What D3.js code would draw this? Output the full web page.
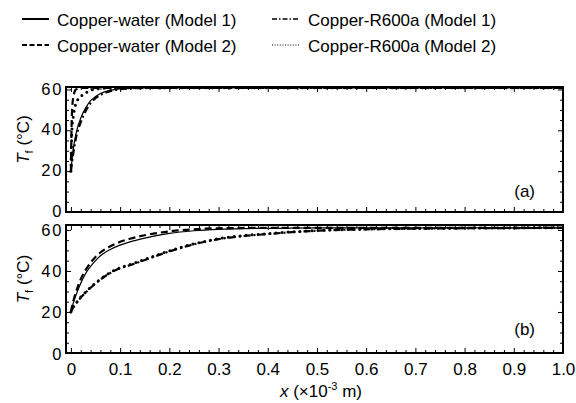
<!DOCTYPE html>
<html>
<head>
<meta charset="utf-8">
<script src="https://cdn.jsdelivr.net/npm/d3@7"></script>
<style>
  body { margin: 0; background: #fff; }
  text { font-family: "Liberation Sans", Arial, sans-serif; fill: #000; }
</style>
</head>
<body>
<div id="chart"></div>
<script>
// x positions (×10^-3 m) shared by all curves
var xGrid = [0, 0.002, 0.005, 0.01, 0.02, 0.03, 0.04, 0.05, 0.06, 0.08, 0.1, 0.12, 0.15,
             0.2, 0.25, 0.3, 0.4, 0.5, 0.6, 0.7, 0.8, 0.9, 1.0];

// panel (a)
var waterM1a = [20, 25, 31, 38, 46, 51, 54.5, 56.5, 58, 59.6, 60.3, 60.6, 60.8,
                60.8, 60.8, 60.8, 60.8, 60.8, 60.8, 60.8, 60.8, 60.8, 60.8];
var waterM2a = [20, 48, 56.5, 60, 60.7, 60.8, 60.8, 60.8, 60.8, 60.8, 60.8, 60.8, 60.8,
                60.8, 60.8, 60.8, 60.8, 60.8, 60.8, 60.8, 60.8, 60.8, 60.8];
var r600M1a  = [20, 24, 29, 36, 44, 49.5, 53.3, 55.7, 57.3, 59.2, 60.1, 60.5, 60.7,
                60.8, 60.8, 60.8, 60.8, 60.8, 60.8, 60.8, 60.8, 60.8, 60.8];
var r600M2a  = [20, 40, 47, 53, 56.5, 58.3, 59.5, 60.2, 60.5, 60.7, 60.8, 60.8, 60.8,
                60.8, 60.8, 60.8, 60.8, 60.8, 60.8, 60.8, 60.8, 60.8, 60.8];

// panel (b)
var waterM1b = [20, 22, 24.5, 28, 34, 38.8, 42.2, 45, 47.4, 50.5, 52.6, 54.2, 56,
                58.3, 59.6, 60.3, 60.8, 61, 61, 61, 61, 61, 61];
var waterM2b = [20, 22.5, 25.5, 29.5, 36, 40.5, 44, 46.8, 49, 52, 54.2, 55.7, 57.4,
                59.3, 60.3, 60.8, 61, 61, 61, 61, 61, 61, 61];
var r600M1b  = [20, 21, 22.3, 24, 27, 29.5, 31.8, 33.8, 35.8, 39, 41.3, 42.8, 45.3,
                49.5, 53, 55.5, 58, 59.6, 60.3, 60.6, 60.8, 60.9, 61];
var r600M2b  = [20, 21.1, 22.5, 24.2, 27.3, 29.8, 32.1, 34.1, 36.1, 39.3, 41.6, 43.1, 45.6,
                49.8, 53.2, 55.7, 58.2, 59.7, 60.4, 60.7, 60.9, 61, 61];

// ticks
var xMajor = [0, 0.1, 0.2, 0.3, 0.4, 0.5, 0.6, 0.7, 0.8, 0.9, 1.0];
var yMajor = [0, 20, 40, 60];

var legendNames = ["Copper-water (Model 1)", "Copper-water (Model 2)",
                   "Copper-R600a (Model 1)", "Copper-R600a (Model 2)"];

var styles = [
  { width: 1.2, dash: null, legW: 2, legDash: null },
  { width: 2.2, dash: "7,4", legW: 2, legDash: "5,2.5" },
  { width: 2.2, dash: "7,3,2,3", legW: 1.6, legDash: "5,2,1.5,2" },
  { width: 3, dash: "0,6", cap: "round", legW: 1, legDash: "1,1.6" }
];

var svgWidth = 576, svgHeight = 403;
var left = 66, right = 563;

var svg = d3.select("#chart").append("svg")
  .attr("width", svgWidth)
  .attr("height", svgHeight);

var x = d3.scaleLinear().domain([-0.01, 1.0]).range([left, right]);

var xMinor = d3.range(0, 1.001, 0.02).filter(function(v) {
  return Math.abs(v * 10 - Math.round(v * 10)) > 1e-6;
});
var yMinor = d3.range(5, 61, 5).filter(function(v) { return v % 20 !== 0; });

function tidy(g) {
  g.select(".domain").remove();
  g.selectAll(".tick line").attr("stroke", "#000").attr("stroke-width", 1);
}

function drawPanel(top, bottom, yMax, series, tag, tagY, showX, labelDy) {
  var y = d3.scaleLinear().domain([0, yMax]).range([bottom, top]);
  var g = svg.append("g");

  // ticks on all four sides, pointing inward
  g.append("g").attr("transform", "translate(0," + bottom + ")")
    .call(d3.axisBottom(x).tickValues(xMajor).tickSizeInner(-5).tickSizeOuter(0).tickPadding(9.5)
      .tickFormat(showX ? function(d) { return d === 0 ? "0" : d3.format(".1f")(d); } : ""))
    .call(tidy)
    .selectAll("text").attr("font-size", 17).attr("font-family", "Liberation Sans, Arial, sans-serif");
  g.append("g").attr("transform", "translate(0," + bottom + ")")
    .call(d3.axisBottom(x).tickValues(xMinor).tickSizeInner(-3).tickSizeOuter(0).tickFormat(""))
    .call(tidy);
  g.append("g").attr("transform", "translate(0," + top + ")")
    .call(d3.axisTop(x).tickValues(xMajor).tickSizeInner(-5).tickSizeOuter(0).tickFormat(""))
    .call(tidy);
  g.append("g").attr("transform", "translate(0," + top + ")")
    .call(d3.axisTop(x).tickValues(xMinor).tickSizeInner(-3).tickSizeOuter(0).tickFormat(""))
    .call(tidy);

  g.append("g").attr("transform", "translate(" + left + ",0)")
    .call(d3.axisLeft(y).tickValues(yMajor).tickSizeInner(-5).tickSizeOuter(0).tickPadding(2.5))
    .call(tidy)
    .selectAll("text").attr("font-size", 16.5).attr("letter-spacing", "2px")
    .attr("dy", labelDy)
    .attr("font-family", "Liberation Sans, Arial, sans-serif");
  g.append("g").attr("transform", "translate(" + left + ",0)")
    .call(d3.axisLeft(y).tickValues(yMinor).tickSizeInner(-3).tickSizeOuter(0).tickFormat(""))
    .call(tidy);
  g.append("g").attr("transform", "translate(" + right + ",0)")
    .call(d3.axisRight(y).tickValues(yMajor).tickSizeInner(-5).tickSizeOuter(0).tickFormat(""))
    .call(tidy);
  g.append("g").attr("transform", "translate(" + right + ",0)")
    .call(d3.axisRight(y).tickValues(yMinor).tickSizeInner(-3).tickSizeOuter(0).tickFormat(""))
    .call(tidy);

  // curves
  var line = d3.line()
    .x(function(d, i) { return x(xGrid[i]); })
    .y(function(d) { return y(d); })
    .curve(d3.curveMonotoneX);

  series.forEach(function(vals, i) {
    var s = styles[i];
    g.append("path")
      .datum(vals)
      .attr("d", line)
      .attr("fill", "none")
      .attr("stroke", "#000")
      .attr("stroke-width", s.width)
      .attr("stroke-dasharray", s.dash)
      .attr("stroke-linecap", s.cap || "butt");
  });

  // frame
  g.append("rect")
    .attr("x", left).attr("y", top)
    .attr("width", right - left).attr("height", bottom - top)
    .attr("fill", "none").attr("stroke", "#000").attr("stroke-width", 2);

  // panel tag
  g.append("text")
    .attr("x", 535).attr("y", tagY)
    .attr("text-anchor", "end")
    .attr("font-size", 17)
    .text(tag);

  // y title
  var yt = g.append("text")
    .attr("transform", "translate(29," + ((top + bottom) / 2 - 10) + ") rotate(-90)")
    .attr("text-anchor", "middle")
    .attr("font-size", 17);
  yt.append("tspan").attr("font-style", "italic").text("T");
  yt.append("tspan").attr("font-size", 11).attr("dy", 4).text("f");
  yt.append("tspan").attr("dy", -4).text(" (°C)");
}

drawPanel(87, 212, 61.2, [waterM1a, waterM2a, r600M1a, r600M2a], "(a)", 197, false, "4.6px");
drawPanel(225, 353, 62.4, [waterM1b, waterM2b, r600M1b, r600M2b], "(b)", 335, true, "6px");

// x title
var xt = svg.append("text")
  .attr("x", 321).attr("y", 397)
  .attr("text-anchor", "middle")
  .attr("font-size", 17);
xt.append("tspan").attr("font-style", "italic").text("x");
xt.append("tspan").text(" (×10");
xt.append("tspan").attr("font-size", 11).attr("dy", -7).text("-3");
xt.append("tspan").attr("dy", 7).text(" m)");

// legend
var legPos = [
  { x: 22, y: 19 }, { x: 22, y: 45 },
  { x: 272, y: 19 }, { x: 272, y: 45 }
];
legendNames.forEach(function(name, i) {
  var p = legPos[i], s = styles[i];
  svg.append("line")
    .attr("x1", p.x).attr("x2", p.x + 27)
    .attr("y1", p.y).attr("y2", p.y)
    .attr("stroke", "#000")
    .attr("stroke-width", s.legW)
    .attr("stroke-dasharray", s.legDash);
  svg.append("text")
    .attr("x", p.x + (i < 2 ? 35 : 36))
    .attr("y", p.y + 6.5)
    .attr("font-size", 17)
    .text(name);
});
</script>
</body>
</html>
